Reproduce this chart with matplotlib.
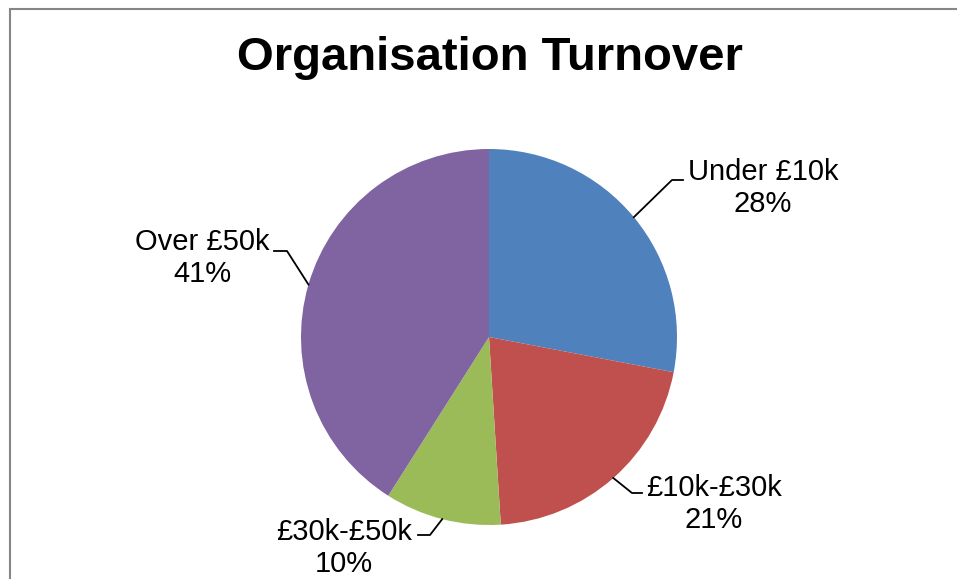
import numpy as np
import matplotlib.pyplot as plt
import matplotlib.patches as mpatches

plt.rcParams.update({'font.family': ['Liberation Sans', 'DejaVu Sans']})

# dados do grafico
categorias = ['Under £10k', '£10k-£30k', '£30k-£50k', 'Over £50k']
percentuais = [28, 21, 10, 41]
cores = ['#4F81BD', '#C0504D', '#9BBB59', '#8064A2']

W, H = 957, 579
CX, CY, R = 489, 337, 188   # centro e raio do pie em pixels

fig = plt.figure(figsize=(W / 100, H / 100), dpi=100)
ax = fig.add_axes([0, 0, 1, 1])

ax.pie(percentuais, colors=cores, startangle=90, counterclock=False,
       radius=1, center=(0, 0), wedgeprops=dict(linewidth=0))

# o pie redefine os limites, entao ajusta depois
ax.set_xlim(-CX / R, (W - CX) / R)
ax.set_ylim(-(H - CY) / R, CY / R)
ax.set_aspect('equal')
ax.axis('off')

def px(x, y):
    return (x - CX) / R, (CY - y) / R

# posicao do texto (centro) e cotovelo / fim da linha guia, em pixels
rotulos = [
    ((763, 188), (672, 180), (683, 180)),
    ((714, 504), (632, 493), (642, 493)),
    ((344, 548), (430, 535), (418, 535)),
    ((202, 258), (287, 251), (274, 251)),
]

inicio = 90
for nome, pct, (txt, cot, fim) in zip(categorias, percentuais, rotulos):
    meio = np.deg2rad(inicio - pct / 100 * 360 / 2)
    inicio -= pct / 100 * 360
    ancora = (np.cos(meio), np.sin(meio))
    c = px(*cot); f = px(*fim)
    ax.plot([ancora[0], c[0], f[0]], [ancora[1], c[1], f[1]], color='black', lw=1.3)
    tx, ty = px(*txt)
    ax.text(tx, ty, f'{nome}\n{pct}%', ha='center', va='center', fontsize=21,
            linespacing=1.15)

fig.text(490 / W, 1 - 58 / H, 'Organisation Turnover', ha='center', va='center',
         fontsize=34, fontweight='bold')

# moldura cinza do grafico
fig.add_artist(mpatches.Rectangle((10 / W, -0.1), 2, 1.1 - 9 / H, transform=fig.transFigure,
                                  fill=False, edgecolor='#868686', lw=1.5))

plt.savefig('out.png', dpi=100)
plt.close()
